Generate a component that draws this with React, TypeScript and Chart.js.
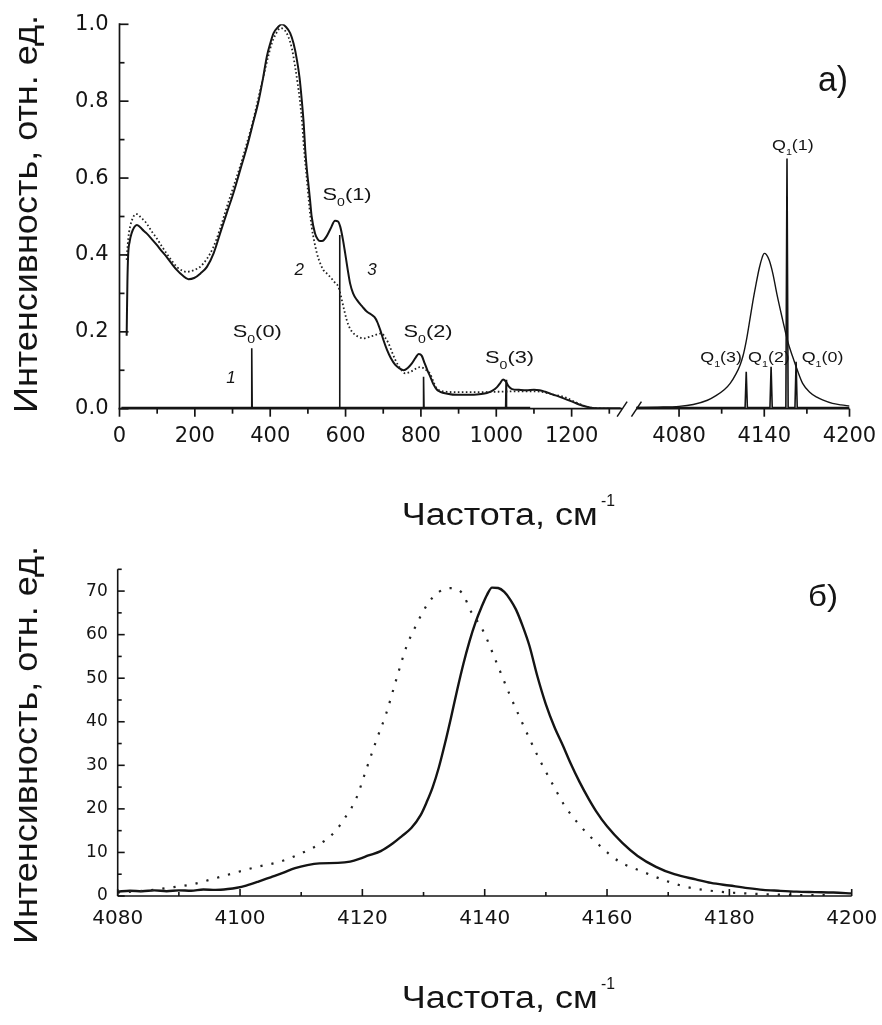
import { useEffect, useRef } from 'react';
import { Chart, registerables } from 'chart.js';

Chart.register(...registerables);

type Pt = [number, number];

// ---------------- Panel a) ----------------
// curve 3 (solid), low-frequency part
const A_SOLID_LEFT: Pt[] = [
  [19, 0.19], [21, 0.33], [23, 0.40], [27, 0.435], [32, 0.456], [39, 0.472], [46, 0.478], [55, 0.472],
  [64, 0.463], [72, 0.456], [85, 0.442], [99, 0.426], [112, 0.41], [125, 0.395], [138, 0.378], [152, 0.361],
  [167, 0.347], [183, 0.337], [198, 0.34], [215, 0.352], [232, 0.369], [250, 0.405], [267, 0.456], [285, 0.51],
  [302, 0.56], [320, 0.62], [338, 0.68], [355, 0.745], [369, 0.80], [381, 0.86], [391, 0.916], [400, 0.95],
  [409, 0.977], [420, 0.992], [431, 1.0], [442, 0.993], [453, 0.977], [462, 0.95], [471, 0.907], [478, 0.86],
  [484, 0.80], [489, 0.74], [493, 0.673], [497, 0.625], [502, 0.578], [506, 0.54], [510, 0.50], [519, 0.456],
  [526, 0.441], [532, 0.436], [540, 0.437], [550, 0.449], [560, 0.468], [572, 0.489], [580, 0.487], [586, 0.473],
  [593, 0.44], [599, 0.404], [606, 0.36], [612, 0.326], [620, 0.3], [630, 0.283], [645, 0.265], [657, 0.252],
  [668, 0.245], [677, 0.238], [684, 0.226], [692, 0.205], [700, 0.18], [710, 0.153], [720, 0.132], [732, 0.114],
  [743, 0.105], [754, 0.10], [765, 0.106], [776, 0.118], [786, 0.133], [794, 0.142], [802, 0.138], [810, 0.118],
  [818, 0.098], [825, 0.083], [833, 0.064], [842, 0.05], [851, 0.044], [870, 0.039], [895, 0.036], [913, 0.036],
  [940, 0.036], [960, 0.038], [975, 0.041], [990, 0.047], [1002, 0.056], [1010, 0.066], [1018, 0.076], [1025, 0.071],
  [1033, 0.058], [1042, 0.051], [1060, 0.049], [1080, 0.048], [1100, 0.049], [1115, 0.048], [1130, 0.044], [1150, 0.037],
  [1165, 0.032], [1179, 0.027], [1200, 0.019], [1220, 0.011], [1240, 0.005], [1255, 0.002], [1280, 0.001], [1330, 0.001],
];

// curve 2 (dotted), low-frequency part
const A_DOTTED_LEFT: Pt[] = [
  [19, 0.387], [23, 0.44], [28, 0.473], [35, 0.495], [42, 0.506], [48, 0.506], [57, 0.497], [65, 0.49],
  [72, 0.482], [85, 0.462], [99, 0.443], [112, 0.423], [125, 0.404], [138, 0.386], [152, 0.369], [165, 0.36],
  [178, 0.356], [196, 0.36], [214, 0.369], [232, 0.39], [249, 0.42], [267, 0.468], [285, 0.525], [302, 0.576],
  [320, 0.63], [338, 0.69], [355, 0.751], [369, 0.81], [382, 0.864], [393, 0.91], [404, 0.95], [415, 0.975],
  [427, 0.99], [438, 0.985], [448, 0.968], [458, 0.935], [466, 0.89], [473, 0.845], [479, 0.80], [485, 0.74],
  [490, 0.673], [495, 0.62], [499, 0.578], [504, 0.525], [510, 0.473], [517, 0.435], [524, 0.404], [532, 0.38],
  [541, 0.361], [550, 0.352], [559, 0.343], [570, 0.33], [581, 0.317], [586, 0.3], [590, 0.283], [596, 0.258],
  [603, 0.231], [611, 0.21], [621, 0.196], [634, 0.187], [648, 0.183], [661, 0.186], [674, 0.19], [686, 0.194],
  [696, 0.196], [705, 0.185], [714, 0.17], [723, 0.148], [732, 0.127], [745, 0.105], [758, 0.092], [770, 0.095],
  [780, 0.10], [790, 0.106], [798, 0.108], [808, 0.105], [817, 0.098], [825, 0.09], [834, 0.068], [842, 0.053],
  [855, 0.046], [869, 0.044], [900, 0.043], [950, 0.043], [1000, 0.044], [1050, 0.045], [1100, 0.045], [1120, 0.044],
  [1150, 0.037], [1179, 0.031], [1210, 0.017], [1241, 0.005], [1270, 0.001], [1300, 0.0],
];

// curve 3 (solid), Q-band region
const A_SOLID_RIGHT: Pt[] = [
  [4050, 0.003], [4065, 0.004], [4080, 0.006], [4090, 0.011], [4100, 0.022], [4106, 0.034], [4112, 0.05],
  [4116, 0.066], [4120, 0.09], [4123, 0.114], [4125, 0.137], [4127.5, 0.18], [4130, 0.235], [4132, 0.28],
  [4134.3, 0.326], [4136.5, 0.366], [4138.5, 0.393], [4140, 0.404], [4141.5, 0.401], [4143.5, 0.386],
  [4146, 0.352], [4149, 0.296], [4153, 0.23], [4156.5, 0.175], [4160, 0.135], [4163.5, 0.098], [4167, 0.066],
  [4172, 0.043], [4177, 0.03], [4181, 0.023], [4188, 0.014], [4194, 0.01], [4200, 0.007],
];

// curve 1: narrow lines of the free molecule
const S0_FREQ = [351, 584, 807, 1026];
const S0_HEIGHT = [0.157, 0.452, 0.083, 0.075];
const S0_LABELS = ['(0)', '(1)', '(2)', '(3)'];
const Q1_FREQ = [4127.3, 4144.8, 4156, 4162.4];
const Q1_HEIGHT = [0.096, 0.109, 0.651, 0.122];
const Q1_LABELS = ['(3)', '(2)', '(1)', '(0)'];
const LINE_BASE = 0.003;
const LINE_RANGE_LEFT: Pt = [5, 1090];
const LINE_RANGE_RIGHT: Pt = [4050, 4200];

const A_X_MAJOR = [0, 200, 400, 600, 800, 1000, 1200, 4080, 4140, 4200];
const A_X_MINOR = [100, 300, 500, 700, 900, 1100, 1300, 4110, 4170];
const A_Y_TICKS = [0, 0.1, 0.2, 0.3, 0.4, 0.5, 0.6, 0.7, 0.8, 0.9, 1.0];

// ---------------- Panel б) ----------------
const B_SOLID: Pt[] = [
  [4080, 1.0], [4082, 1.2], [4084, 1.1], [4086, 1.3], [4088, 1.1], [4090, 1.3], [4092, 1.2], [4094, 1.5],
  [4096, 1.4], [4098, 1.6], [4099.5, 1.9], [4101, 2.4], [4103, 3.3], [4105, 4.3], [4107, 5.3], [4109, 6.4],
  [4111, 7.1], [4113, 7.5], [4116, 7.6], [4118, 7.9], [4119.5, 8.5], [4121, 9.3], [4123, 10.3], [4125, 12.1],
  [4126.5, 13.8], [4128, 15.6], [4129.5, 18.5], [4130.5, 21.5], [4131.5, 25], [4132.5, 29.5], [4133.5, 35],
  [4134.5, 41], [4135.5, 47.3], [4136.5, 53.2], [4137.5, 58.4], [4138.5, 62.8], [4139.5, 66.4], [4140.4, 69.2],
  [4141.2, 70.8], [4142.2, 70.7], [4143.2, 69.8], [4144.2, 68.0], [4145.1, 65.8], [4146.2, 62.0], [4147.3, 57.5],
  [4148.6, 50.5], [4150, 44], [4151.4, 38.8], [4152.8, 34.5], [4154, 30.6], [4155.5, 26.2], [4157, 22.3],
  [4158.2, 19.5], [4160, 16.0], [4162.5, 12.2], [4165, 9.2], [4168, 6.7], [4171, 5.0], [4174.5, 3.8], [4177, 3.0],
  [4180, 2.4], [4183, 1.8], [4185.5, 1.4], [4188, 1.2], [4191, 1.0], [4194, 0.9], [4197, 0.8], [4200, 0.6],
];

const B_DOTTED: Pt[] = [
  [4080, 0.8], [4085, 1.3], [4089, 2.0], [4092.4, 2.75], [4095.9, 4.05], [4099.4, 5.43], [4102.9, 6.73],
  [4106.5, 7.87], [4110, 9.79], [4113.6, 12.46], [4115.5, 14.76], [4116.9, 17.4], [4119, 22.4], [4120.6, 28.9],
  [4122.3, 35.8], [4123.9, 41.9], [4125.5, 49.5], [4127.2, 57.2], [4128.8, 62.2], [4130.7, 67.1], [4132.5, 69.8],
  [4134.5, 70.7], [4135.8, 70.2], [4136.7, 68.7], [4137.5, 66.0], [4139.7, 61.0], [4141.9, 53.7], [4144, 46.5],
  [4145.7, 41.1], [4147.3, 36.2], [4149, 31.2], [4150.9, 26.2], [4153, 20.9], [4155.5, 16.3], [4158.7, 11.7],
  [4162, 7.9], [4165.8, 5.6], [4169.4, 3.6], [4172.9, 2.1], [4178.3, 1.0], [4182.7, 0.6], [4188.4, 0.3],
  [4194, 0.2], [4197, 0.2],
];

const B_Y_MINOR = [5, 15, 25, 35, 45, 55, 65, 75];
const B_X_MINOR = [4090, 4110, 4130, 4150, 4170, 4190];

const Y_TITLE = 'Интенсивность, отн. ед.';
const X_TITLE = 'Частота, см';
const X_TITLE_SUP = '-1';

// ---------------- broken axis mapping ----------------
const LEFT_MAX = 1334;
const RIGHT_MIN = 4050;
const GAP = 38;
const K = 3.77;
const toV = (f: number) => (f < 2000 ? f : LEFT_MAX + GAP + (f - RIGHT_MIN) * K);
const pts = (arr: Pt[]) => arr.map(([f, v]) => ({ x: toV(f), y: v }));

function linePoints(range: Pt, freqs: number[], heights: number[], hw: number) {
  const out: Pt[] = [[range[0], LINE_BASE]];
  freqs.forEach((f, i) => {
    out.push([f - hw, LINE_BASE], [f, heights[i]], [f + hw, LINE_BASE]);
  });
  out.push([range[1], LINE_BASE]);
  return out;
}

const INK = '#141414';
const TITLE_FONT = '"Liberation Sans", Arial, sans-serif';
const TICK_FONT = '"DejaVu Sans", sans-serif';

function drawFitted(ctx: CanvasRenderingContext2D, text: string, x: number, y: number, font: string,
  width: number, align: CanvasTextAlign = 'left', rotate = 0) {
  ctx.save();
  ctx.font = font;
  const natural = ctx.measureText(text).width;
  const sx = width ? width / natural : 1;
  ctx.translate(x, y);
  if (rotate) ctx.rotate(rotate);
  ctx.scale(sx, 1);
  ctx.textAlign = align;
  ctx.textBaseline = 'alphabetic';
  ctx.fillStyle = INK;
  ctx.fillText(text, 0, 0);
  ctx.restore();
}

function drawSubLabel(ctx: CanvasRenderingContext2D, main: string, sub: string, rest: string,
  x: number, y: number, size: number, width: number) {
  const big = `${size}px ${TITLE_FONT}`;
  const small = `${Math.round(size * 0.62)}px ${TITLE_FONT}`;
  ctx.save();
  ctx.font = big;
  const wm = ctx.measureText(main).width;
  const wr = ctx.measureText(rest).width;
  ctx.font = small;
  const ws = ctx.measureText(sub).width;
  const sx = width / (wm + ws + wr);
  ctx.translate(x, y);
  ctx.scale(sx, 1);
  ctx.textAlign = 'left';
  ctx.textBaseline = 'alphabetic';
  ctx.fillStyle = INK;
  ctx.font = big;
  ctx.fillText(main, 0, 0);
  ctx.font = small;
  ctx.fillText(sub, wm, size * 0.36);
  ctx.font = big;
  ctx.fillText(rest, wm + ws, 0);
  ctx.restore();
}

function seg(ctx: CanvasRenderingContext2D, x1: number, y1: number, x2: number, y2: number) {
  ctx.beginPath();
  ctx.moveTo(x1, y1);
  ctx.lineTo(x2, y2);
  ctx.stroke();
}

function drawXTitle(ctx: CanvasRenderingContext2D, baseline: number) {
  drawFitted(ctx, X_TITLE, 401.7, baseline, `31px ${TITLE_FONT}`, 196);
  drawFitted(ctx, X_TITLE_SUP, 601, baseline - 19, `17px ${TITLE_FONT}`, 14);
}

function drawYTitle(ctx: CanvasRenderingContext2D, centerY: number) {
  drawFitted(ctx, Y_TITLE, 37, centerY, `33px ${TITLE_FONT}`, 398, 'center', -Math.PI / 2);
}

const noPad = (s: any) => {
  s.paddingLeft = 0;
  s.paddingRight = 0;
  s.paddingTop = 0;
  s.paddingBottom = 0;
};

// label layout for panel a): dx = offset of label's left edge from its line, yv = baseline in data units
const S0_LAYOUT = [
  { dx: -19, yv: 0.1865 }, { dx: -17, yv: 0.5425 }, { dx: -20, yv: 0.1865 }, { dx: -21, yv: 0.119 },
];
const Q1_LAYOUT = [
  { dx: -46, yv: 0.1215 }, { dx: -23, yv: 0.1215 }, { dx: -15, yv: 0.673 }, { dx: 5.6, yv: 0.1215 },
];
const CURVE_NUMBERS = [
  { text: '1', f: 296, v: 0.08 }, { text: '2', f: 477, v: 0.36 }, { text: '3', f: 670, v: 0.36 },
];

const decorA = {
  id: 'decorA',
  afterDraw(chart: any) {
    const { ctx, scales } = chart;
    const x = scales.x, y = scales.y;
    const left = x.getPixelForValue(0);
    const bottom = y.getPixelForValue(0);
    ctx.save();
    ctx.strokeStyle = INK;
    ctx.lineWidth = 1.7;
    ctx.lineCap = 'butt';
    // y axis with inward ticks
    seg(ctx, left, y.getPixelForValue(1) - 1, left, bottom);
    A_Y_TICKS.forEach((v, i) => {
      const py = y.getPixelForValue(v);
      seg(ctx, left, py, left + (i % 2 === 0 ? 9 : 5), py);
    });
    // broken x axis
    const xl = x.getPixelForValue(toV(LEFT_MAX));
    const xr = x.getPixelForValue(toV(RIGHT_MIN));
    seg(ctx, left - 1, bottom, xl, bottom);
    seg(ctx, xr, bottom, x.getPixelForValue(toV(4200)), bottom);
    A_X_MAJOR.forEach((f) => {
      const px = x.getPixelForValue(toV(f));
      seg(ctx, px, bottom, px, bottom + 8);
    });
    A_X_MINOR.forEach((f) => {
      const px = x.getPixelForValue(toV(f));
      seg(ctx, px, bottom, px, bottom + 5);
    });
    // break marks
    ctx.lineWidth = 1.5;
    seg(ctx, xl - 5, bottom + 8, xl + 5, bottom - 7);
    seg(ctx, xr - 5, bottom + 8, xr + 5, bottom - 7);
    ctx.restore();

    // line labels
    S0_LAYOUT.forEach((l, i) => {
      const px = x.getPixelForValue(toV(S0_FREQ[i])) + l.dx;
      drawSubLabel(ctx, 'S', '0', S0_LABELS[i], px, y.getPixelForValue(l.yv), 17, 49);
    });
    Q1_LAYOUT.forEach((l, i) => {
      const px = x.getPixelForValue(toV(Q1_FREQ[i])) + l.dx;
      drawSubLabel(ctx, 'Q', '1', Q1_LABELS[i], px, y.getPixelForValue(l.yv), 15, 41.7);
    });
    ctx.save();
    ctx.fillStyle = INK;
    ctx.font = `italic 17px ${TITLE_FONT}`;
    ctx.textAlign = 'center';
    ctx.textBaseline = 'middle';
    CURVE_NUMBERS.forEach((c) => {
      ctx.fillText(c.text, x.getPixelForValue(toV(c.f)), y.getPixelForValue(c.v));
    });
    ctx.restore();

    drawFitted(ctx, 'а)', 818, 91, `35px ${TITLE_FONT}`, 30);
    drawYTitle(ctx, 214);
    drawXTitle(ctx, 525);
  },
};

const decorB = {
  id: 'decorB',
  afterDraw(chart: any) {
    const { ctx, scales } = chart;
    const x = scales.x, y = scales.y;
    const left = x.getPixelForValue(4080);
    const right = x.getPixelForValue(4200);
    const bottom = y.getPixelForValue(0);
    ctx.save();
    ctx.strokeStyle = INK;
    ctx.lineWidth = 1.6;
    seg(ctx, left, y.getPixelForValue(75), left, bottom);
    seg(ctx, left, bottom, right, bottom);
    y.ticks.forEach((t: any) => {
      const py = y.getPixelForValue(t.value);
      seg(ctx, left, py, left + 7, py);
    });
    B_Y_MINOR.forEach((v) => {
      const py = y.getPixelForValue(v);
      seg(ctx, left, py, left + 4, py);
    });
    x.ticks.forEach((t: any) => {
      const px = x.getPixelForValue(t.value);
      seg(ctx, px, bottom, px, bottom - 7);
    });
    B_X_MINOR.forEach((f) => {
      const px = x.getPixelForValue(f);
      seg(ctx, px, bottom, px, bottom - 4);
    });
    ctx.restore();
    drawFitted(ctx, 'б)', 808, 606 - 540, `29px ${TITLE_FONT}`, 30);
    drawYTitle(ctx, 745 - 540);
    drawXTitle(ctx, 1008 - 540);
  },
};

function makeChartA(canvas: HTMLCanvasElement) {
  const gapPoint = { x: toV(LEFT_MAX) + GAP / 2, y: null as any };
  const linesLeft = pts(linePoints(LINE_RANGE_LEFT, S0_FREQ, S0_HEIGHT, 1.2));
  const linesRight = pts(linePoints(LINE_RANGE_RIGHT, Q1_FREQ, Q1_HEIGHT, 0.8));
  return new Chart(canvas, {
    type: 'line',
    data: {
      datasets: [
        {
          label: '2',
          data: pts(A_DOTTED_LEFT),
          borderColor: '#222',
          borderWidth: 1.8,
          borderDash: [1.6, 2.4],
          pointRadius: 0,
          cubicInterpolationMode: 'monotone',
        },
        {
          label: '3',
          data: pts(A_SOLID_LEFT),
          borderColor: INK,
          borderWidth: 2,
          pointRadius: 0,
          cubicInterpolationMode: 'monotone',
        },
        {
          label: '3b',
          data: pts(A_SOLID_RIGHT),
          borderColor: INK,
          borderWidth: 1.4,
          pointRadius: 0,
          cubicInterpolationMode: 'monotone',
        },
        {
          label: '1',
          data: [...linesLeft, gapPoint, ...linesRight],
          borderColor: INK,
          borderWidth: 1.6,
          pointRadius: 0,
          tension: 0,
          spanGaps: false,
        },
      ],
    },
    options: {
      responsive: false,
      animation: false,
      events: [],
      layout: { padding: { top: 24.3, right: 32.5, left: 0, bottom: 0 } },
      plugins: { legend: { display: false }, tooltip: { enabled: false } },
      scales: {
        x: {
          type: 'linear',
          min: 0,
          max: toV(4200),
          grid: { display: false, drawTicks: false },
          border: { display: false },
          ticks: {
            autoSkip: false,
            maxRotation: 0,
            padding: 15,
            color: INK,
            font: { family: TICK_FONT, size: 21 },
            callback: (_v: any, i: number) => String(A_X_MAJOR[i]),
          },
          afterBuildTicks: (s: any) => {
            s.ticks = A_X_MAJOR.map((f) => ({ value: toV(f) }));
          },
          afterFit: (s: any) => {
            s.height = 540 - 408.7;
            noPad(s);
          },
        },
        y: {
          min: 0,
          max: 1,
          grid: { display: false, drawTicks: false },
          border: { display: false },
          ticks: {
            stepSize: 0.2,
            padding: 11,
            color: INK,
            font: { family: TICK_FONT, size: 21 },
            callback: (v: any) => Number(v).toFixed(1),
          },
          afterFit: (s: any) => {
            s.width = 119.5;
            noPad(s);
          },
        },
      },
    },
    plugins: [decorA],
  } as any);
}

function makeChartB(canvas: HTMLCanvasElement) {
  return new Chart(canvas, {
    type: 'line',
    data: {
      datasets: [
        {
          label: 'dotted',
          data: B_DOTTED.map(([f, v]) => ({ x: f, y: v })),
          borderColor: '#222',
          borderWidth: 2.2,
          borderDash: [2.2, 9],
          pointRadius: 0,
          cubicInterpolationMode: 'monotone',
        },
        {
          label: 'solid',
          data: B_SOLID.map(([f, v]) => ({ x: f, y: v })),
          borderColor: INK,
          borderWidth: 2.4,
          pointRadius: 0,
          cubicInterpolationMode: 'monotone',
        },
      ],
    },
    options: {
      responsive: false,
      animation: false,
      events: [],
      layout: { padding: { top: 29.3, right: 30.3, left: 0, bottom: 0 } },
      plugins: { legend: { display: false }, tooltip: { enabled: false } },
      scales: {
        x: {
          type: 'linear',
          min: 4080,
          max: 4200,
          grid: { display: false, drawTicks: false },
          border: { display: false },
          ticks: {
            stepSize: 20,
            autoSkip: false,
            maxRotation: 0,
            padding: 11,
            color: INK,
            font: { family: TICK_FONT, size: 20 },
            callback: (v: any) => String(v),
          },
          afterFit: (s: any) => {
            s.height = 485 - 356;
            noPad(s);
          },
        },
        y: {
          min: 0,
          max: 75,
          grid: { display: false, drawTicks: false },
          border: { display: false },
          ticks: {
            stepSize: 10,
            includeBounds: false,
            padding: 10,
            color: INK,
            font: { family: TICK_FONT, size: 17 },
            callback: (v: any) => String(v),
          },
          afterFit: (s: any) => {
            s.width = 117.7;
            noPad(s);
          },
        },
      },
    },
    plugins: [decorB],
  } as any);
}

export default function App() {
  const refA = useRef<HTMLCanvasElement>(null);
  const refB = useRef<HTMLCanvasElement>(null);
  useEffect(() => {
    const a = makeChartA(refA.current!);
    const b = makeChartB(refB.current!);
    return () => {
      a.destroy();
      b.destroy();
    };
  }, []);
  return (
    <div style={{ position: 'absolute', left: 0, top: 0, width: 882, height: 1025, background: '#fff' }}>
      <canvas ref={refA} width={882} height={540} style={{ position: 'absolute', left: 0, top: 0, display: 'block' }} />
      <canvas ref={refB} width={882} height={485} style={{ position: 'absolute', left: 0, top: 540, display: 'block' }} />
    </div>
  );
}
